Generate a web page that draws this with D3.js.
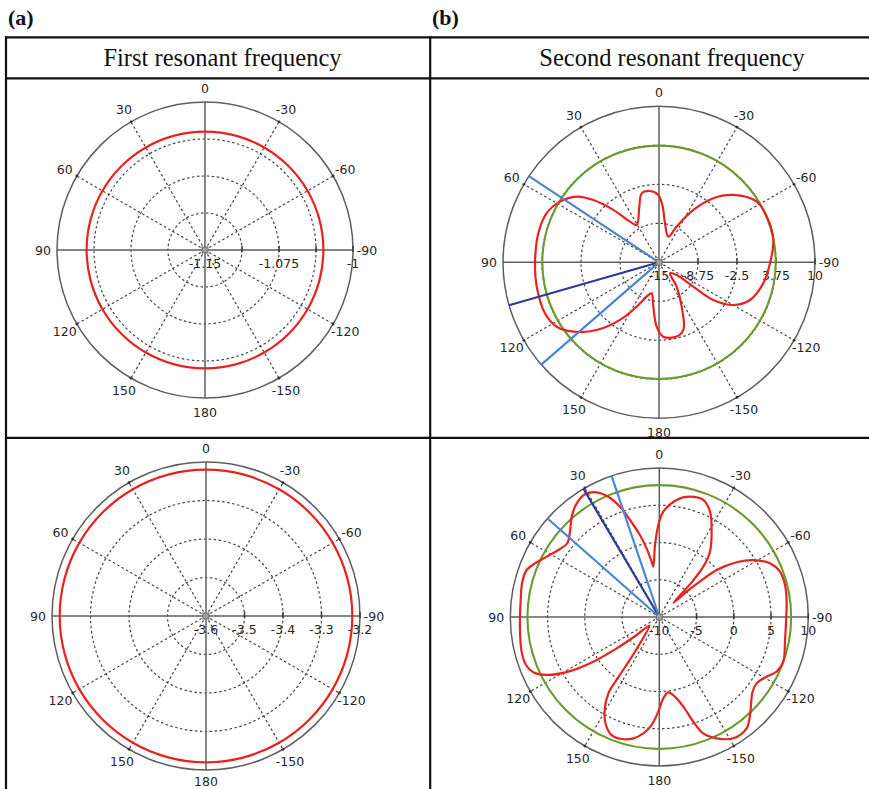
<!DOCTYPE html>
<html>
<head>
<meta charset="utf-8">
<script src="https://cdn.jsdelivr.net/npm/d3@7"></script>
<style>
  body { margin: 0; background: #fff; }
  svg { display: block; }
</style>
</head>
<body>
<svg id="fig" width="869" height="789"></svg>
<script>
// ---------------- data ----------------
const panelLetters = ["(a)", "(b)"];
const columnTitles = ["First resonant frequency", "Second resonant frequency"];
const angleLabels = [0, 30, 60, 90, 120, 150, 180, -150, -120, -90, -60, -30];

// (a) first resonance, upper pattern
const a1Grid = [-1.1125, -1.075, -1.0375, -1];
const a1Labels = ["-1.15", "-1.075", "-1"];
const a1LabelValues = [-1.15, -1.075, -1];
const a1Angles = [-180, -165, -150, -135, -120, -105, -90, -75, -60, -45, -30, -15,
                  0, 15, 30, 45, 60, 75, 90, 105, 120, 135, 150, 165];
const a1Gain = [-1.03, -1.03, -1.03, -1.03, -1.03, -1.03, -1.03, -1.03, -1.03, -1.03, -1.03, -1.03,
                -1.03, -1.03, -1.03, -1.03, -1.03, -1.03, -1.03, -1.03, -1.03, -1.03, -1.03, -1.03];

// (a) first resonance, lower pattern
const a2Grid = [-3.5, -3.4, -3.3, -3.2];
const a2Labels = ["-3.6", "-3.5", "-3.4", "-3.3", "-3.2"];
const a2LabelValues = [-3.6, -3.5, -3.4, -3.3, -3.2];
const a2Angles = [-180, -165, -150, -135, -120, -105, -90, -75, -60, -45, -30, -15,
                  0, 15, 30, 45, 60, 75, 90, 105, 120, 135, 150, 165];
const a2Gain = [-3.22, -3.22, -3.22, -3.22, -3.22, -3.22, -3.22, -3.22, -3.22, -3.22, -3.22, -3.22,
                -3.22, -3.22, -3.22, -3.22, -3.22, -3.22, -3.22, -3.22, -3.22, -3.22, -3.22, -3.22];

// (b) second resonance, upper pattern
const b1Grid = [-8.75, -2.5, 3.75, 10];
const b1Labels = ["-15", "-8.75", "-2.5", "3.75", "10"];
const b1LabelValues = [-15, -8.75, -2.5, 3.75, 10];
const b1Angles = [-176.7, -166.6, -160.2, -152.9, -144, -135, -125.6, -125.3, -124.7, -119.9,
                  -112.5, -101.4, -90.5, -79, -68.8, -58.2, -47.8, -40.3, -33.3, -26.3,
                  -20, -8.7, -3.8, 0.6, 7.2, 14.1, 19.5, 30.9, 35.5, 41.1,
                  46.5, 51.4, 58.5, 66.4, 76.5, 90.5, 101.2, 114.1, 122.2, 129,
                  137.4, 145.9, 153.3, 162, 166.7, 172.7, 177.9];
const b1Gain = [-3.06, -2.76, -3.48, -7.02, -10.19, -12.5, -11.52, -8.27, -4.41, -1.27,
                0.79, 2.05, 2.79, 3.67, 3.78, 3.43, 1.07, -1.54, -4.97, -8.62,
                -10.63, -8.67, -6.06, -4.21, -3.48, -3.61, -5.54, -8.03, -7.0, -3.86,
                -0.5, 1.88, 3.61, 4.65, 4.89, 4.87, 4.98, 5.02, 4.38, 2.66,
                -0.26, -3.85, -7.05, -9.49, -9.89, -7.84, -4.68];
const b1Level = 3.7;
const b1Markers = [56.5, 106, 131];

// (b) second resonance, lower pattern
const b2Grid = [-5, 0, 5, 10];
const b2Labels = ["-10", "-5", "0", "5", "10"];
const b2LabelValues = [-10, -5, 0, 5, 10];
const b2Angles = [-177.2, -173.2, -168.9, -165, -162, -159.3, -154.7, -148.6, -141.9, -137.2,
                  -128.7, -124.3, -119.1, -115, -109.8, -101.1, -92.1, -83.1, -75.7, -69.4,
                  -64.1, -58.8, -54.7, -50.7, -49, -47.5, -45, -43, -41, -37.8,
                  -30.5, -25.7, -20.6, -14.3, -8.4, -2.2, 0.6, 3.4, 6.8, 7.9,
                  10.5, 13.3, 16.8, 19.6, 23, 26.7, 31.2, 36, 41.1, 46.3,
                  51.3, 55.6, 61.8, 66.7, 70.5, 75.5, 83.7, 94.6, 104.1, 109.8,
                  113.7, 117.2, 121.2, 124.1, 126.3, 128.5, 131, 144, 145.5, 145.8,
                  146.3, 149.9, 153.7, 158, 162.8, 167.9, 172.2, 175.9, 179.4];
const b2Gain = [0.93, 0.19, 0.9, 2.46, 4.78, 6.7, 8.01, 9.07, 8.99, 7.92,
                6.04, 5.81, 6.48, 7.37, 7.69, 7.19, 7.02, 7.22, 7.41, 7.3,
                6.51, 4.75, 2.71, -0.05, -2.62, -4.63, -7.32, -3.56, -0.87, 1.1,
                3.83, 5.69, 6.78, 6.67, 5.88, 4.15, 2.35, -0.32, -3.19, -2.5,
                -0.63, 1.3, 3.6, 5.72, 7.54, 8.73, 9.25, 8.86, 7.88, 6.58,
                5.83, 6.16, 7.15, 8.17, 8.89, 8.99, 8.73, 8.77, 9.06, 9.02,
                8.47, 7.01, 4.01, 0.7, -2.9, -6.12, -8.23, -5.44, -2.89, -0.28,
                2.32, 4.66, 6.17, 7.09, 7.14, 6.66, 5.76, 4.54, 2.71];
const b2Level = 7.7;
const b2Markers = [48.6, 30.6, 18.7];

// ---------------- drawing ----------------
const svg = d3.select("#fig");
const DEG = Math.PI / 180;
const COLORS = {
  frame: "#111", axis: "#5e5e5e", grid: "#444", text: "#262626",
  trace: "#e8231f", level: "#6b9b2c", beam: "#4a86d2", beamMain: "#2b3a9c"
};

// table frame and headings
const frame = svg.append("g").attr("stroke", COLORS.frame).attr("stroke-width", 2.2);
frame.append("line").attr("x1", 5).attr("x2", 869).attr("y1", 37.3).attr("y2", 37.3);
frame.append("line").attr("x1", 5).attr("x2", 869).attr("y1", 78.3).attr("y2", 78.3);
frame.append("line").attr("x1", 5).attr("x2", 869).attr("y1", 437.8).attr("y2", 437.8);
frame.append("line").attr("x1", 6).attr("x2", 6).attr("y1", 36.2).attr("y2", 789);
frame.append("line").attr("x1", 430.2).attr("x2", 430.2).attr("y1", 36.2).attr("y2", 789);

svg.selectAll("text.letter").data(panelLetters).join("text")
  .attr("class", "letter")
  .attr("x", (d, i) => [8, 432][i]).attr("y", 25)
  .attr("font-family", "'Liberation Serif', 'Times New Roman', serif")
  .attr("font-weight", "bold").attr("font-size", 22).attr("fill", "#111")
  .text(d => d);

svg.selectAll("text.title").data(columnTitles).join("text")
  .attr("class", "title")
  .attr("x", (d, i) => [222.5, 672][i]).attr("y", 66)
  .attr("text-anchor", "middle")
  .attr("font-family", "'Liberation Serif', 'Times New Roman', serif")
  .attr("font-size", 24.5).attr("fill", "#111")
  .text(d => d);

function polar(theta, rho) {
  // theta measured counter-clockwise from the top
  return [-rho * Math.sin(theta * DEG), -rho * Math.cos(theta * DEG)];
}

function drawPanel(p) {
  const g = svg.append("g").attr("transform", `translate(${p.cx},${p.cy})`);
  const r = d3.scaleLinear().domain(p.domain).range([0, p.R]);
  const fontStyle = sel => sel.attr("font-family", "'DejaVu Sans', Verdana, sans-serif")
    .attr("font-size", 12.5).attr("fill", COLORS.text);

  // dashed rings
  g.selectAll("circle.ring").data(p.grid.slice(0, -1)).join("circle")
    .attr("r", d => r(d)).attr("fill", "none")
    .attr("stroke", COLORS.grid).attr("stroke-width", 1.2).attr("stroke-dasharray", "2.5,2.5");

  // dashed spokes
  const spokes = angleLabels.filter(a => a % 90 !== 0);
  g.selectAll("line.spoke").data(spokes).join("line")
    .attr("x1", 0).attr("y1", 0)
    .attr("x2", d => polar(d, p.R)[0]).attr("y2", d => polar(d, p.R)[1])
    .attr("stroke", COLORS.grid).attr("stroke-width", 1.2).attr("stroke-dasharray", "2.5,2.5");

  // outer circle and axes
  g.append("circle").attr("r", p.R).attr("fill", "none")
    .attr("stroke", COLORS.axis).attr("stroke-width", 1.5);
  g.append("line").attr("x1", -p.R).attr("x2", p.R).attr("y1", 0).attr("y2", 0)
    .attr("stroke", COLORS.axis).attr("stroke-width", 1.5);
  g.append("line").attr("y1", -p.R).attr("y2", p.R).attr("x1", 0).attr("x2", 0)
    .attr("stroke", COLORS.axis).attr("stroke-width", 1.5);

  // ticks along the radial axis and on the rim
  g.selectAll("line.tick").data(p.grid).join("line")
    .attr("x1", d => r(d)).attr("x2", d => r(d)).attr("y1", -4).attr("y2", 2)
    .attr("stroke", "#3a3a3a").attr("stroke-width", 1.5);
  g.selectAll("circle.rimdot").data(spokes).join("circle")
    .attr("cx", d => polar(d, p.R)[0]).attr("cy", d => polar(d, p.R)[1])
    .attr("r", 1.4).attr("fill", "#333");

  // angle labels (the bottom one sits a little closer where the cell ends)
  const gap = d => (d === 180 && p.tightBottom) ? 11 : 14;
  g.selectAll("text.ang").data(angleLabels).join("text")
    .attr("x", d => polar(d, p.R + gap(d))[0]).attr("y", d => polar(d, p.R + gap(d))[1])
    .attr("text-anchor", "middle").attr("dominant-baseline", "central")
    .call(fontStyle).text(d => d);

  // value labels under the radial axis
  g.selectAll("text.val").data(p.labels).join("text")
    .attr("x", (d, i) => r(p.labelValues[i])).attr("y", 18)
    .attr("text-anchor", "middle").call(fontStyle).text(d => d);

  // reference level circle
  if (p.level !== undefined) {
    g.append("circle").attr("r", r(p.level)).attr("fill", "none")
      .attr("stroke", COLORS.level).attr("stroke-width", 2.1);
  }

  // measured pattern
  const pts = p.angles.map((a, i) => ({ a, v: p.gain[i] }));
  const line = d3.lineRadial()
    .angle(d => -d.a * DEG)
    .radius(d => r(d.v))
    .curve(d3.curveCatmullRomClosed.alpha(0.5));
  g.append("path").attr("d", line(pts)).attr("fill", "none")
    .attr("stroke", COLORS.trace).attr("stroke-width", 2.2).attr("stroke-linejoin", "round");

  // beam direction markers
  if (p.markers) {
    g.selectAll("line.beam").data(p.markers).join("line")
      .attr("x1", 0).attr("y1", 0)
      .attr("x2", d => polar(d, r(p.domain[1]))[0]).attr("y2", d => polar(d, r(p.domain[1]))[1])
      .attr("stroke", (d, i) => i === 1 ? COLORS.beamMain : COLORS.beam)
      .attr("stroke-width", 2.2);
  }

  // centre marker
  g.append("rect").attr("x", -3).attr("y", -3).attr("width", 6).attr("height", 6)
    .attr("fill", "#a0a0a0").attr("stroke", "#6d6d6d").attr("stroke-width", 1);
}

drawPanel({ cx: 205, cy: 250, R: 148, domain: [-1.15, -1], grid: a1Grid,
            labels: a1Labels, labelValues: a1LabelValues, angles: a1Angles, gain: a1Gain });
drawPanel({ cx: 206, cy: 616, R: 154, domain: [-3.6, -3.2], grid: a2Grid,
            labels: a2Labels, labelValues: a2LabelValues, angles: a2Angles, gain: a2Gain,
            tightBottom: true });
drawPanel({ cx: 659, cy: 262.3, R: 156, domain: [-15, 10], grid: b1Grid,
            labels: b1Labels, labelValues: b1LabelValues, angles: b1Angles, gain: b1Gain,
            level: b1Level, markers: b1Markers });
drawPanel({ cx: 659.3, cy: 617, R: 149, domain: [-10, 10], grid: b2Grid,
            labels: b2Labels, labelValues: b2LabelValues, angles: b2Angles, gain: b2Gain,
            level: b2Level, markers: b2Markers });
</script>
</body>
</html>
